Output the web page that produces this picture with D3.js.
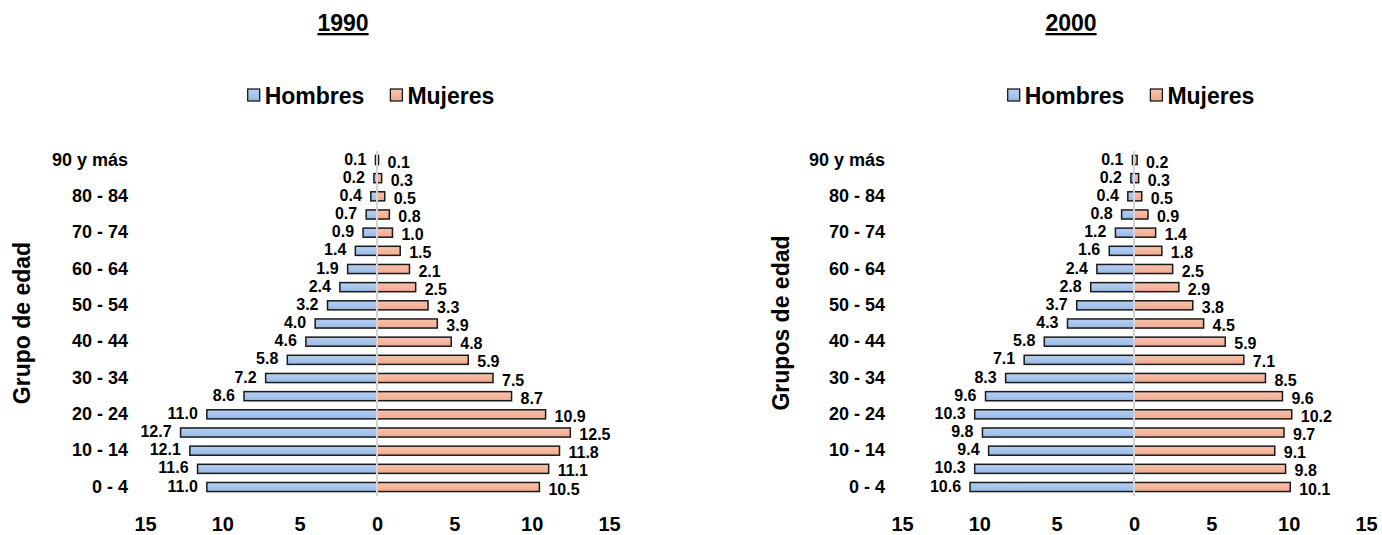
<!DOCTYPE html>
<html lang="es">
<head>
<meta charset="utf-8">
<script src="https://cdn.jsdelivr.net/npm/d3@7"></script>
<style>
  html, body { margin: 0; padding: 0; background: #ffffff; }
  svg { display: block; font-family: "Liberation Sans", Arial, Helvetica, sans-serif; font-weight: bold; }
</style>
</head>
<body>
<svg id="chart" width="1382" height="535"></svg>
<script>
// Age groups, youngest first
const categories = ["0 - 4", "5 - 9", "10 - 14", "15 - 19", "20 - 24", "25 - 29", "30 - 34",
  "35 - 39", "40 - 44", "45 - 49", "50 - 54", "55 - 59", "60 - 64", "65 - 69", "70 - 74",
  "75 - 79", "80 - 84", "85 - 89", "90 y más"];

// Population share (%) by sex
const hombres1990 = [11.0, 11.6, 12.1, 12.7, 11.0, 8.6, 7.2, 5.8, 4.6, 4.0, 3.2, 2.4, 1.9, 1.4, 0.9, 0.7, 0.4, 0.2, 0.1];
const mujeres1990 = [10.5, 11.1, 11.8, 12.5, 10.9, 8.7, 7.5, 5.9, 4.8, 3.9, 3.3, 2.5, 2.1, 1.5, 1.0, 0.8, 0.5, 0.3, 0.1];
const hombres2000 = [10.6, 10.3, 9.4, 9.8, 10.3, 9.6, 8.3, 7.1, 5.8, 4.3, 3.7, 2.8, 2.4, 1.6, 1.2, 0.8, 0.4, 0.2, 0.1];
const mujeres2000 = [10.1, 9.8, 9.1, 9.7, 10.2, 9.6, 8.5, 7.1, 5.9, 4.5, 3.8, 2.9, 2.5, 1.8, 1.4, 0.9, 0.5, 0.3, 0.2];

// Horizontal axis ticks (values are shown unsigned on both sides)
const xTicks = [-15, -10, -5, 0, 5, 10, 15];
const seriesNames = ["Hombres", "Mujeres"];

const svg = d3.select("#chart");

// Fills for the two series
const defs = svg.append("defs");
const gradients = [
  { id: "gradHombres", top: "#b7d0f1", bottom: "#98b9e7" },
  { id: "gradMujeres", top: "#f8c2ad", bottom: "#f2aa8f" }
];
gradients.forEach(g => {
  const lg = defs.append("linearGradient").attr("id", g.id)
    .attr("x1", 0).attr("y1", 0).attr("x2", 0).attr("y2", 1);
  lg.append("stop").attr("offset", "0%").attr("stop-color", g.top);
  lg.append("stop").attr("offset", "100%").attr("stop-color", g.bottom);
});
const legendFills = ["url(#gradHombres)", "url(#gradMujeres)"];

const panels = [
  { year: "1990", yTitle: "Grupo de edad", hombres: hombres1990, mujeres: mujeres1990,
    cx: 377, titleX: 343, legendX: 371, yTitleX: 22 },
  { year: "2000", yTitle: "Grupos de edad", hombres: hombres2000, mujeres: mujeres2000,
    cx: 1134, titleX: 1071, legendX: 1131, yTitleX: 781 }
];

const yTop = 150.9, yBottom = 496.1;
const halfWidth = 232;

panels.forEach(p => {
  const g = svg.append("g");

  const x = d3.scaleLinear().domain([-15, 15]).range([p.cx - halfWidth, p.cx + halfWidth]);
  const y = d3.scaleBand().domain(categories.slice().reverse())
    .range([yTop, yBottom]).paddingInner(0.5).paddingOuter(0.25);

  // Title
  g.append("text")
    .attr("x", p.titleX).attr("y", 31)
    .attr("text-anchor", "middle")
    .attr("font-size", 23)
    .attr("text-decoration", "underline")
    .attr("fill", "#000")
    .text(p.year);

  // Legend
  const leg = g.append("g");
  let lx = 0;
  seriesNames.forEach((name, i) => {
    leg.append("rect")
      .attr("x", lx).attr("y", 89).attr("width", 12).attr("height", 12)
      .attr("fill", legendFills[i]).attr("stroke", "#1a1a1a").attr("stroke-width", 1.3);
    const t = leg.append("text")
      .attr("x", lx + 17).attr("y", 103.5)
      .attr("font-size", 23).attr("fill", "#000")
      .text(name);
    lx += 17 + t.node().getComputedTextLength() + 26;
  });
  const legW = lx - 26;
  leg.attr("transform", `translate(${p.legendX - legW / 2},0)`);

  // Category axis (every other age group labelled)
  const yAxis = d3.axisLeft(y).tickSize(0).tickPadding(0)
    .tickFormat(d => categories.indexOf(d) % 2 === 0 ? d : "");
  g.append("g")
    .attr("transform", `translate(${p.cx - 249},0)`)
    .call(yAxis)
    .call(s => s.select(".domain").remove())
    .selectAll("text")
    .attr("font-size", 18).attr("font-family", null).attr("fill", "#000");

  // Vertical axis title
  g.append("text")
    .attr("transform", `translate(${p.yTitleX},323) rotate(-90)`)
    .attr("text-anchor", "middle").attr("dy", "0.35em")
    .attr("font-size", 23).attr("fill", "#000")
    .text(p.yTitle);

  // Value axis
  const xAxis = d3.axisBottom(x).tickValues(xTicks).tickSize(0).tickPadding(12)
    .tickFormat(d => Math.abs(d));
  g.append("g")
    .attr("transform", "translate(0,505)")
    .call(xAxis)
    .call(s => s.select(".domain").remove())
    .selectAll("text")
    .attr("font-size", 20).attr("font-family", null).attr("fill", "#000");

  const rows = categories.map((c, i) => ({ cat: c, h: p.hombres[i], m: p.mujeres[i] }));

  // Bars: men to the left, women to the right
  g.append("g").selectAll("rect.h").data(rows).join("rect")
    .attr("class", "h")
    .attr("x", d => x(-d.h)).attr("y", d => y(d.cat))
    .attr("width", d => x(0) - x(-d.h)).attr("height", y.bandwidth())
    .attr("fill", "url(#gradHombres)").attr("stroke", "#1a1a1a").attr("stroke-width", 1.5);

  g.append("g").selectAll("rect.m").data(rows).join("rect")
    .attr("class", "m")
    .attr("x", x(0)).attr("y", d => y(d.cat))
    .attr("width", d => x(d.m) - x(0)).attr("height", y.bandwidth())
    .attr("fill", "url(#gradMujeres)").attr("stroke", "#1a1a1a").attr("stroke-width", 1.5);

  // Centre line
  g.append("line")
    .attr("x1", x(0)).attr("x2", x(0)).attr("y1", yTop).attr("y2", yBottom)
    .attr("stroke", "#d4d4d4").attr("stroke-width", 2);

  // Value labels
  g.append("g").selectAll("text").data(rows).join("text")
    .attr("x", d => x(-d.h) - 9)
    .attr("y", d => y(d.cat) + y.bandwidth() / 2 - 1)
    .attr("dy", "0.35em").attr("text-anchor", "end")
    .attr("font-size", 16).attr("fill", "#000")
    .text(d => d.h.toFixed(1));

  g.append("g").selectAll("text").data(rows).join("text")
    .attr("x", d => x(d.m) + 9)
    .attr("y", d => y(d.cat) + y.bandwidth() / 2 + 2)
    .attr("dy", "0.35em").attr("text-anchor", "start")
    .attr("font-size", 16).attr("fill", "#000")
    .text(d => d.m.toFixed(1));
});
</script>
</body>
</html>
